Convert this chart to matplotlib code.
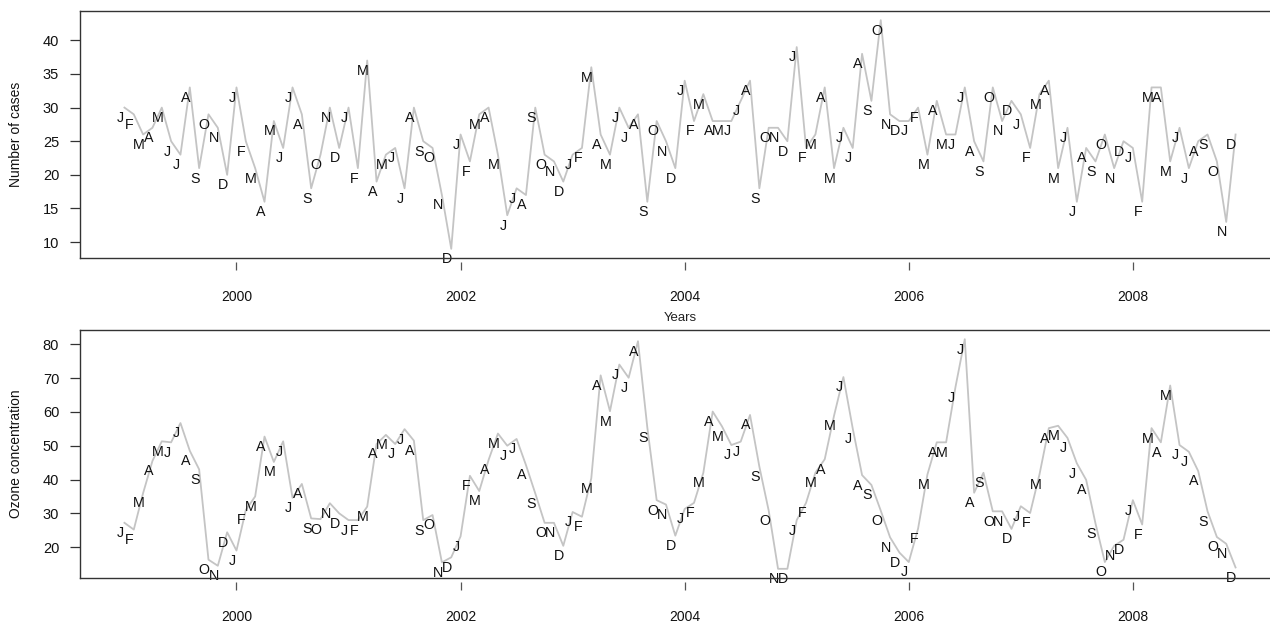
import matplotlib
matplotlib.use("Agg")
import matplotlib.pyplot as plt
import numpy as np

plt.rcParams['font.family'] = ['Liberation Sans', 'DejaVu Sans']

start_year = 1999
month_letters = ["J", "F", "M", "A", "M", "J", "J", "A", "S", "O", "N", "D"]

cases = [
    30, 29, 26, 27, 30, 25, 23, 33, 21, 29, 27, 20,   # 1999
    33, 25, 21, 16, 28, 24, 33, 29, 18, 23, 30, 24,   # 2000
    30, 21, 37, 19, 23, 24, 18, 30, 25, 24, 17, 9,    # 2001
    26, 22, 29, 30, 23, 14, 18, 17, 30, 23, 22, 19,   # 2002
    23, 24, 36, 26, 23, 30, 27, 29, 16, 28, 25, 21,   # 2003
    34, 28, 32, 28, 28, 28, 31, 34, 18, 27, 27, 25,   # 2004
    39, 24, 26, 33, 21, 27, 24, 38, 31, 43, 29, 28,   # 2005
    28, 30, 23, 31, 26, 26, 33, 25, 22, 33, 28, 31,   # 2006
    29, 24, 32, 34, 21, 27, 16, 24, 22, 26, 21, 25,   # 2007
    24, 16, 33, 33, 22, 27, 21, 25, 26, 22, 13, 26,   # 2008
]

ozone = [
    27.2, 25.2, 36.0, 45.5, 51.3, 51.0, 56.7, 48.5, 43.0, 16.3, 14.5, 24.4,  # 1999
    19.0, 31.0, 35.0, 52.7, 45.2, 51.3, 34.6, 38.7, 28.5, 28.3, 33.0, 30.0,  # 2000
    28.0, 28.0, 32.0, 50.5, 53.2, 50.5, 54.9, 51.5, 28.0, 29.5, 15.5, 17.0,  # 2001
    23.2, 41.1, 36.6, 45.8, 53.6, 50.0, 52.0, 44.3, 35.9, 27.2, 27.2, 20.4,  # 2002
    30.4, 29.0, 40.4, 70.8, 60.2, 74.0, 70.1, 80.9, 55.4, 33.9, 32.6, 23.4,  # 2003
    31.3, 33.1, 42.0, 60.1, 55.7, 50.2, 51.2, 59.1, 43.8, 30.8, 13.6, 13.6,  # 2004
    28.0, 33.1, 42.0, 46.0, 58.9, 70.3, 55.1, 41.3, 38.4, 30.8, 22.9, 18.4,  # 2005
    15.6, 25.5, 41.5, 51.0, 51.0, 67.3, 81.5, 36.1, 42.0, 30.6, 30.6, 25.4,  # 2006
    32.1, 30.1, 41.5, 55.2, 55.9, 52.3, 44.8, 39.9, 27.0, 15.6, 20.4, 22.2,  # 2007
    33.9, 26.7, 55.2, 51.0, 67.8, 50.2, 48.2, 42.5, 30.6, 23.0, 21.0, 14.0,  # 2008
]

year_ticks = [2000, 2002, 2004, 2006, 2008]
cases_ticks = [10, 15, 20, 25, 30, 35, 40]
ozone_ticks = [20, 30, 40, 50, 60, 70, 80]

n = len(cases)
t = start_year + np.arange(n) / 12.0
labels = [month_letters[i % 12] for i in range(n)]

W, H = 1270, 622
fig = plt.figure(figsize=(W / 100, H / 100), dpi=100)
fig.patch.set_facecolor('white')

def px_axes(left, top, right, bottom):
    return fig.add_axes([left / W, 1 - bottom / H, (right - left) / W, (bottom - top) / H])

ax1 = px_axes(80, 11, 1280, 258)
ax2 = px_axes(80, 330, 1280, 578)

def style(ax, y, yticks, ylabel, xlabel=None):
    ax.plot(t, y, color='#c4c4c4', lw=1.3, zorder=1)
    for xi, yi, lab in zip(t, y, labels):
        ax.annotate(lab, (xi, yi), xytext=(-3, -7.5), textcoords='offset points',
                    ha='center', va='center', fontsize=10.3, color='#111111', zorder=2)
    rng = t[-1] - t[0]
    ax.set_xlim(t[0] - 0.04 * rng, t[-1] + 0.04 * rng)
    yr = max(y) - min(y)
    ax.set_ylim(min(y) - 0.04 * yr, max(y) + 0.04 * yr)
    ax.set_yticks(yticks)
    ax.tick_params(axis='y', direction='out', length=7, width=0.9, pad=8,
                   labelsize=10.5, colors='#333333', labelcolor='#111111')
    ax.set_xticks([])
    for s in ax.spines.values():
        s.set_color('#333333')
        s.set_linewidth(1.0)
    ax.set_ylabel(ylabel, fontsize=10, color='#111111', labelpad=14)
    sec = ax.secondary_xaxis(-0.016)
    sec.spines['bottom'].set_visible(False)
    sec.set_xticks(year_ticks)
    sec.tick_params(axis='x', direction='out', length=6, width=0.9, pad=14,
                    labelsize=10, colors='#555555', labelcolor='#111111')
    if xlabel:
        sec.set_xlabel(xlabel, fontsize=9.5, color='#222222', labelpad=6)

style(ax1, cases, cases_ticks, 'Number of cases', 'Years')
style(ax2, ozone, ozone_ticks, 'Ozone concentration')

fig.savefig('out.png', dpi=100, facecolor='white')
